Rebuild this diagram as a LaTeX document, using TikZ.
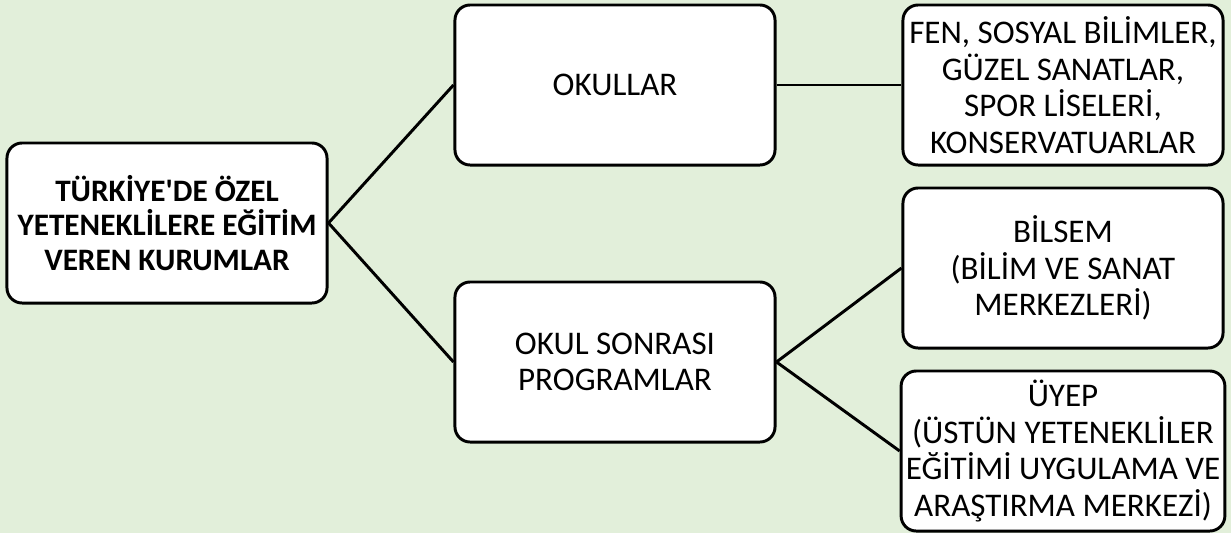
\documentclass[tikz,border=0pt]{standalone}
\usepackage{fontspec}
\setmainfont{Carlito}
\usepackage{tikz}
\usetikzlibrary{positioning, calc}

\definecolor{bggreen}{HTML}{E2EFDA}

\begin{document}
\begin{tikzpicture}[x=0.025cm, y=-0.025cm,
		kutu/.style={shape=rectangle, rounded corners=0.38cm, draw=black, line width=2.1pt,
			fill=white, minimum width=8cm, minimum height=4cm, align=center,
			font=\fontsize{23.5}{26.1}\selectfont}]
		\fill[bggreen] (0,0) rectangle (1231,533);

		\node[kutu, font=\fontsize{22.2}{24.6}\selectfont\bfseries] (kurum) at (167,223) {TÜRKİYE\textquotesingle DE ÖZEL\\YETENEKLİLERE EĞİTİM\\VEREN KURUMLAR};
		\node[kutu] (okul) at (615,85) {OKULLAR};
		\node[kutu] (sonra) at (615,362) {OKUL SONRASI\\PROGRAMLAR};
		\node[kutu] (lise) at (1063,85) {FEN, SOSYAL BİLİMLER,\\GÜZEL SANATLAR,\\SPOR LİSELERİ,\\KONSERVATUARLAR};
		\node[kutu] (bilsem) at (1063,268) {BİLSEM\\(BİLİM VE SANAT\\MERKEZLERİ)};
		\node[kutu] (uyep) at (1063,451) {ÜYEP\\(ÜSTÜN YETENEKLİLER\\EĞİTİMİ UYGULAMA VE\\ARAŞTIRMA MERKEZİ)};

		\begin{scope}[line width=2.1pt]
			\draw (kurum.east) -- (okul.west);
			\draw (kurum.east) -- (sonra.west);
			\draw (okul.east) -- (lise.west);
			\draw (sonra.east) -- (bilsem.west);
			\draw (sonra.east) -- (uyep.west);
		\end{scope}

	\end{tikzpicture}
\end{document}
